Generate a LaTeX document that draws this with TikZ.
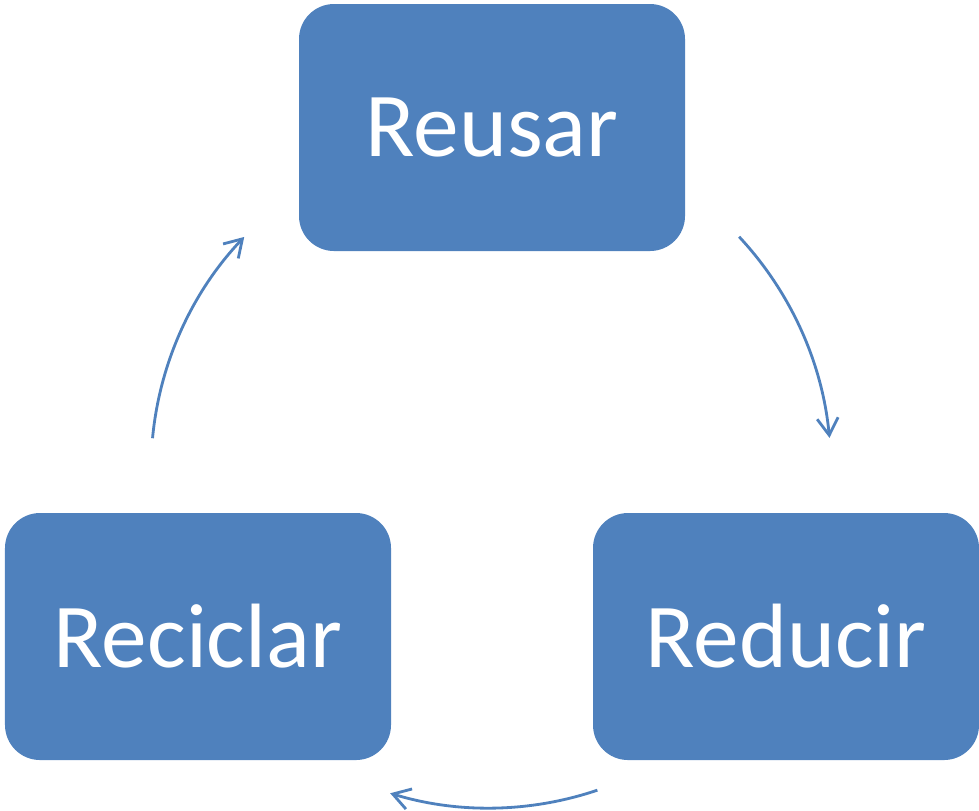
\documentclass[tikz,border=0pt]{standalone}
\usepackage{fontspec}
\setmainfont{Carlito}
\usetikzlibrary{arrows.meta}

\definecolor{boxblue}{HTML}{4F81BD}

\tikzset{
  stagebox/.style={fill=boxblue, rounded corners=0.35cm, minimum width=3.86cm,
    minimum height=2.47cm, text=white, font=\fontsize{26}{32}\selectfont},
  cycarrow/.style={draw=boxblue, line width=0.8pt, -{Straight Barb[length=1.7mm, width=2.1mm]}}
}

\begin{document}
\begin{tikzpicture}
  \useasboundingbox (0, 0) rectangle (9.79, -8.10);

  % the three stages
  \node[stagebox] (reusar) at (4.92, -1.275) {Reusar};
  \node[stagebox] (reducir) at (7.86, -6.365) {Reducir};
  \node[stagebox] (reciclar) at (1.98, -6.365) {Reciclar};

  % centre of the cycle
  \coordinate (cyc) at (4.89, -4.70);

  % arcs round the cycle
  \draw[cycarrow] ([shift={(43:3.42)}]cyc) arc[start angle=43, end angle=5.4, radius=3.42]; %reusar to reducir
  \draw[cycarrow] ([shift={(-71.3:3.38)}]cyc) arc[start angle=-71.3, end angle=-107, radius=3.38]; %reducir to reciclar
  \draw[cycarrow] ([shift={(174.6:3.38)}]cyc) arc[start angle=174.6, end angle=136.4, radius=3.38]; %reciclar to reusar

\end{tikzpicture}
\end{document}
